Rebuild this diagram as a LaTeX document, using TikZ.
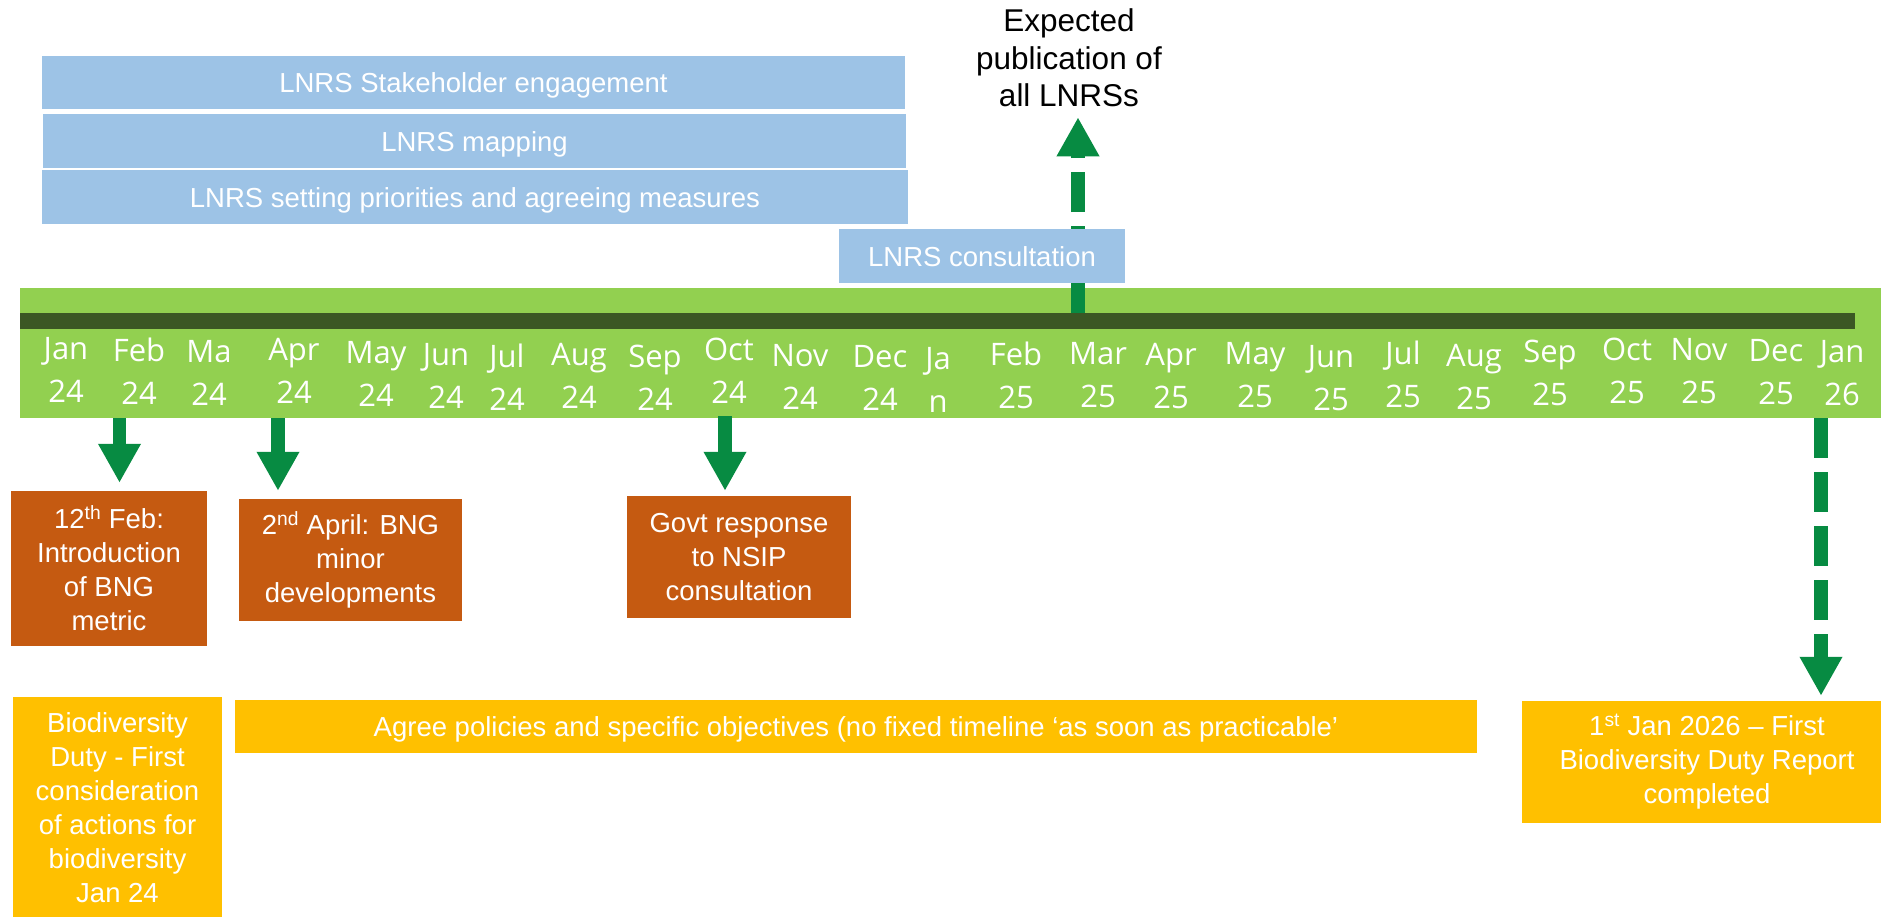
\documentclass[tikz,border=0pt]{standalone}
\usepackage{fontspec}
\setmainfont{Liberation Sans}
\newfontfamily\monthfont{Open Sans}
\usetikzlibrary{arrows.meta, backgrounds, calc}

\definecolor{lnrsblue}{HTML}{9DC3E6}
\definecolor{barlime}{HTML}{92D050}
\definecolor{linedark}{HTML}{3B5724}
\definecolor{arrowgreen}{HTML}{078B42}
\definecolor{eventorange}{HTML}{C55A11}
\definecolor{dutyyellow}{HTML}{FFC000}

\tikzset{
    box/.style={inner sep=0pt, align=center, text=white, font=\fontsize{27.5}{34}\selectfont},
    oneline/.style={text height=20pt, text depth=0pt},
    lnrs/.style={box, oneline, fill=lnrsblue},
    event/.style={box, fill=eventorange},
    duty/.style={box, fill=dutyyellow},
    month/.style={text=white, anchor=base, inner sep=0pt, font=\monthfont\fontsize{31}{36}\selectfont},
    marker/.style={arrowgreen, line width=13.5pt, -{Triangle[width=40pt, length=39pt]}},
    dashmarker/.style={marker, dash pattern=on 40pt off 14pt}
}

\begin{document}
\begin{tikzpicture}[x=1pt, y=-1pt]
    \useasboundingbox (0,0) rectangle (1881,916);
    \clip (0,0) rectangle (1881,916);

    \node [align=center, inner sep=0pt, font=\fontsize{31.5}{37.5}\selectfont] (pub) at (1069,58) {Expected\\publication of\\all LNRSs};

    \node [lnrs, minimum width=863pt, minimum height=53pt] (stake) at (473.5,82.5) {LNRS Stakeholder engagement};
    \node [lnrs, minimum width=863pt, minimum height=54pt] (mapping) at (474.5,141) {LNRS mapping};
    \node [lnrs, minimum width=866pt, minimum height=54pt] (priorities) at (475,197) {LNRS setting priorities and agreeing measures};
    \node [lnrs, minimum width=286pt, minimum height=54pt] (consult) at (982,256) {LNRS consultation};

    \foreach \m/\yr/\x/\b in {Jan/24/66/402, Feb/24/139/404, Ma/24/209/405, Apr/24/294/403, May/24/376/406,
        Jun/24/446/408, Jul/24/507/410, Aug/24/579/408, Sep/24/655/410, Oct/24/729/403, Nov/24/800/409,
        Dec/24/880/410, Ja/n/938/412, Feb/25/1016/408, Mar/25/1098/407, Apr/25/1171/408, May/25/1255/407,
        Jun/25/1331/410, Jul/25/1403/407, Aug/25/1474/409, Sep/25/1550/405, Oct/25/1627/403,
        Nov/25/1699/403, Dec/25/1776/404, Jan/26/1842/405} {
        \node [month] at (\x,\b-43) {\m};
        \node [month] at (\x,\b) {\yr};
    }

    \node [event, minimum width=196pt, minimum height=155pt] (febbox) at (109,568.5) {12\textsuperscript{th} Feb:\\Introduction\\of BNG\\metric};
    \node [event, minimum width=223pt, minimum height=122pt] (aprbox) at (350.5,560) {2\textsuperscript{nd} April: BNG\\minor\\developments};
    \node [event, minimum width=224pt, minimum height=122pt] (octbox) at (739,557) {Govt response\\to NSIP\\consultation};

    \node [duty, minimum width=209pt, minimum height=222pt] (dutybox) at (117.5,808) {Biodiversity\\Duty - First\\consideration\\of actions for\\biodiversity\\Jan 24};
    \node [duty, oneline, minimum width=1242pt, minimum height=53pt] (agreebox) at (856,726.5) {Agree policies and specific objectives (no fixed timeline ‘as soon as practicable’};
    \node [duty, minimum width=370pt, minimum height=122pt] (reportbox) at (1707,762) {1\textsuperscript{st} Jan 2026 – First\\Biodiversity Duty Report\\completed};

    \coordinate (febtick) at (119.5,418);
    \coordinate (aprtick) at (278,418);
    \coordinate (octtick) at (725,416);
    \coordinate (martick) at (1078,313);
    \coordinate (jantick) at (1821,418);

    \draw [marker, shorten >=8pt] (febtick) -- (febtick |- febbox.north);
    \draw [marker, shorten >=8pt] (aprtick) -- (aprtick |- aprbox.north);
    \draw [marker, shorten >=5pt] (octtick) -- (octtick |- octbox.north);
    \draw [dashmarker, shorten >=5pt] (jantick) -- (jantick |- reportbox.north);

    \begin{scope}[on background layer]
        \fill [barlime] (20,288) rectangle (1881,418);
        \fill [linedark] (20,313) rectangle (1855,329);
        \draw [dashmarker, dash phase=7pt, shorten >=10pt] (martick) -- (martick |- pub.south);
    \end{scope}
\end{tikzpicture}
\end{document}
